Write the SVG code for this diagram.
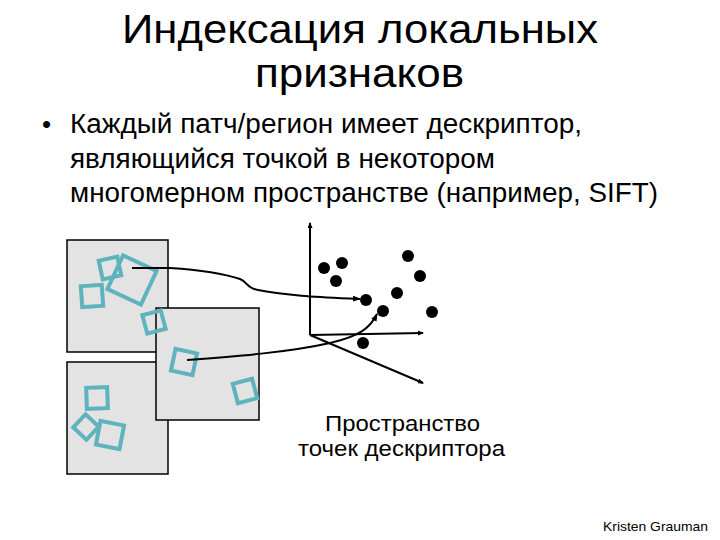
<svg xmlns="http://www.w3.org/2000/svg" width="720" height="540" viewBox="0 0 720 540">
<style>
.t{font-family:"Liberation Sans",Arial,sans-serif;fill:#000}
.panel{fill:#e3e3e3;stroke:#000;stroke-width:1.5}
.sq{fill:none;stroke:#5fb3bd;stroke-width:4}
.dot{fill:#000}
.ax{stroke:#000;stroke-width:2;fill:none}
.cn{stroke:#000;stroke-width:2;fill:none}
</style>
<defs>
<marker id="ah" markerWidth="8" markerHeight="6" refX="7" refY="3" orient="auto" markerUnits="userSpaceOnUse">
<path d="M0,0 L8,3 L0,6 Z" fill="#000"/>
</marker>
<marker id="axh" markerWidth="6" markerHeight="5" refX="5" refY="2.5" orient="auto" markerUnits="userSpaceOnUse">
<path d="M0,0 L6,2.5 L0,5 Z" fill="#000"/>
</marker>
</defs>
<rect width="720" height="540" fill="#fff"/>
<g id="title">
<text class="t" x="122" y="43" font-size="41" textLength="476" lengthAdjust="spacingAndGlyphs">Индексация локальных</text>
<text class="t" x="255" y="87" font-size="41" textLength="209" lengthAdjust="spacingAndGlyphs">признаков</text>
</g>
<g id="bullet">
<text class="t" x="42" y="133" font-size="26">•</text>
<text class="t" x="70" y="133" font-size="27" textLength="512" lengthAdjust="spacingAndGlyphs">Каждый патч/регион имеет дескриптор,</text>
<text class="t" x="70" y="168" font-size="27" textLength="425" lengthAdjust="spacingAndGlyphs">являющийся точкой в некотором</text>
<text class="t" x="70" y="202" font-size="27" textLength="588" lengthAdjust="spacingAndGlyphs">многомерном пространстве (например, SIFT)</text>
</g>
<g id="panel1">
<rect class="panel" x="67" y="240" width="101" height="112"/>
<rect class="sq" x="-9.5" y="-9.5" width="19" height="19" transform="translate(110,268) rotate(-12)"/>
<rect class="sq" x="-18.5" y="-18.5" width="37" height="37" transform="translate(132,280) rotate(25)"/>
<rect class="sq" x="-10.5" y="-10.5" width="21" height="21" transform="translate(92,296) rotate(-4)"/>
</g>
<g id="panel3">
<rect class="panel" x="67" y="362" width="101" height="112"/>
<rect class="sq" x="-10.5" y="-10.5" width="21" height="21" transform="translate(97,398) rotate(-2)"/>
<rect class="sq" x="-9" y="-9" width="18" height="18" transform="translate(86,427) rotate(43)"/>
<rect class="sq" x="-12" y="-12" width="24" height="24" transform="translate(110,435) rotate(11)"/>
</g>
<g id="panel2">
<rect class="panel" x="156" y="308" width="103" height="112"/>
<rect class="sq" x="-11" y="-11" width="22" height="22" transform="translate(184,362) rotate(12)"/>
<rect class="sq" x="-10" y="-10" width="20" height="20" transform="translate(245,391) rotate(-15)"/>
</g>
<g id="patch-overlap">
<rect class="sq" x="-9.5" y="-9.5" width="19" height="19" transform="translate(154,322) rotate(-15)"/>
</g>
<g id="axes">
<line class="ax" x1="310" y1="335" x2="310" y2="223" marker-end="url(#axh)"/>
<line class="ax" x1="310" y1="335" x2="423" y2="333" marker-end="url(#axh)"/>
<line class="ax" x1="310" y1="335" x2="423" y2="383" marker-end="url(#axh)"/>
</g>
<g id="points">
<circle class="dot" cx="324" cy="268" r="6"/>
<circle class="dot" cx="342" cy="263" r="6"/>
<circle class="dot" cx="336" cy="281" r="6"/>
<circle class="dot" cx="408" cy="256" r="6"/>
<circle class="dot" cx="420" cy="276" r="6"/>
<circle class="dot" cx="397" cy="293" r="6"/>
<circle class="dot" cx="366" cy="300" r="6"/>
<circle class="dot" cx="383" cy="311" r="6"/>
<circle class="dot" cx="432" cy="312" r="6"/>
<circle class="dot" cx="363" cy="343" r="6"/>
</g>
<g id="connectors">
<path class="cn" d="M132,268 L170,268 C200,270 225,274 240,279 C248,282 246,288 258,290 C290,296 320,297 360,299" marker-end="url(#ah)"/>
<path class="cn" d="M187,360 C240,356 290,352 330,343 C360,336 370,328 377,314" marker-end="url(#ah)"/>
</g>
<g id="caption">
<text class="t" x="325" y="431" font-size="22" textLength="155" lengthAdjust="spacingAndGlyphs">Пространство</text>
<text class="t" x="298" y="456" font-size="22" textLength="207" lengthAdjust="spacingAndGlyphs">точек дескриптора</text>
</g>
<text class="t" x="603" y="531" font-size="13" textLength="105" lengthAdjust="spacingAndGlyphs">Kristen Grauman</text>
</svg>
